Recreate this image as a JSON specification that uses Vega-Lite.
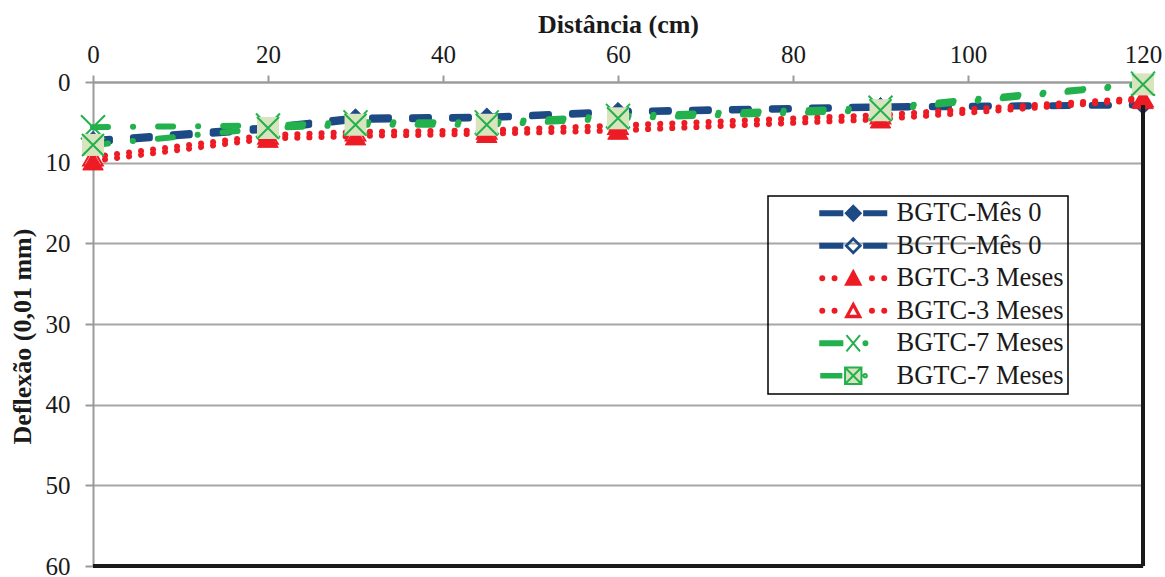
{
  "$schema": "https://vega.github.io/schema/vega-lite/v6.json",
  "width": 1050,
  "height": 484,
  "autosize": "none",
  "padding": {"left": 93, "top": 82, "right": 22, "bottom": 11},
  "background": "white",
  "config": {
    "view": {"stroke": null},
    "font": "Liberation Serif",
    "axis": {
      "labelFont": "Liberation Serif", "labelFontSize": 25, "labelColor": "#1a1a1a",
      "titleFont": "Liberation Serif", "titleFontSize": 26, "titleFontWeight": "bold", "titleColor": "#1a1a1a",
      "domainColor": "#9a9a9a", "domainWidth": 2, "tickColor": "#9a9a9a", "tickWidth": 2,
      "gridColor": "#a6a6a6", "gridWidth": 2
    },
    "legend": {"strokeWidth": 1.5}
  },
  "data": {
    "values": [
      {"series": "BGTC-Mês 0 #1", "x": 0, "y": 7.2}, {"series": "BGTC-Mês 0 #1", "x": 20, "y": 5.6}, {"series": "BGTC-Mês 0 #1", "x": 30, "y": 4.4}, {"series": "BGTC-Mês 0 #1", "x": 45, "y": 4.3}, {"series": "BGTC-Mês 0 #1", "x": 60, "y": 3.6}, {"series": "BGTC-Mês 0 #1", "x": 90, "y": 3.0}, {"series": "BGTC-Mês 0 #1", "x": 120, "y": 2.8},
      {"series": "BGTC-Mês 0 #2", "x": 0, "y": 7.5}, {"series": "BGTC-Mês 0 #2", "x": 20, "y": 5.9}, {"series": "BGTC-Mês 0 #2", "x": 30, "y": 4.7}, {"series": "BGTC-Mês 0 #2", "x": 45, "y": 4.5}, {"series": "BGTC-Mês 0 #2", "x": 60, "y": 3.8}, {"series": "BGTC-Mês 0 #2", "x": 90, "y": 3.2}, {"series": "BGTC-Mês 0 #2", "x": 120, "y": 2.9},
      {"series": "BGTC-3 Meses #1", "x": 0, "y": 9.8}, {"series": "BGTC-3 Meses #1", "x": 20, "y": 7.0}, {"series": "BGTC-3 Meses #1", "x": 30, "y": 6.7}, {"series": "BGTC-3 Meses #1", "x": 45, "y": 6.4}, {"series": "BGTC-3 Meses #1", "x": 60, "y": 6.0}, {"series": "BGTC-3 Meses #1", "x": 90, "y": 4.6}, {"series": "BGTC-3 Meses #1", "x": 120, "y": 2.2},
      {"series": "BGTC-3 Meses #2", "x": 0, "y": 9.3}, {"series": "BGTC-3 Meses #2", "x": 20, "y": 6.6}, {"series": "BGTC-3 Meses #2", "x": 30, "y": 6.2}, {"series": "BGTC-3 Meses #2", "x": 45, "y": 6.0}, {"series": "BGTC-3 Meses #2", "x": 60, "y": 5.4}, {"series": "BGTC-3 Meses #2", "x": 90, "y": 4.1}, {"series": "BGTC-3 Meses #2", "x": 120, "y": 2.0},
      {"series": "BGTC-7 Meses #1", "x": 0, "y": 5.6}, {"series": "BGTC-7 Meses #1", "x": 20, "y": 5.4}, {"series": "BGTC-7 Meses #1", "x": 30, "y": 5.0}, {"series": "BGTC-7 Meses #1", "x": 45, "y": 5.0}, {"series": "BGTC-7 Meses #1", "x": 60, "y": 4.2}, {"series": "BGTC-7 Meses #1", "x": 90, "y": 3.2}, {"series": "BGTC-7 Meses #1", "x": 120, "y": 0.2},
      {"series": "BGTC-7 Meses #2", "x": 0, "y": 7.8}, {"series": "BGTC-7 Meses #2", "x": 20, "y": 5.7}, {"series": "BGTC-7 Meses #2", "x": 30, "y": 5.3}, {"series": "BGTC-7 Meses #2", "x": 45, "y": 5.3}, {"series": "BGTC-7 Meses #2", "x": 60, "y": 4.5}, {"series": "BGTC-7 Meses #2", "x": 90, "y": 3.5}, {"series": "BGTC-7 Meses #2", "x": 120, "y": 0.3}
    ]
  },
  "encoding": {
    "x": {
      "field": "x", "type": "quantitative",
      "scale": {"domain": [0, 120], "nice": false, "zero": false},
      "axis": {"orient": "top", "title": "Distância (cm)", "values": [0, 20, 40, 60, 80, 100, 120], "grid": false, "tickSize": 7, "labelPadding": 8, "titlePadding": 5, "labelFlush": false}
    },
    "y": {
      "field": "y", "type": "quantitative",
      "scale": {"domain": [0, 60], "reverse": true, "nice": false, "zero": false},
      "axis": {"title": "Deflexão (0,01 mm)", "values": [0, 10, 20, 30, 40, 50, 60], "grid": true, "tickSize": 8, "labelPadding": 15, "titlePadding": 10, "titleY": 254}
    }
  },
  "layer": [
    {"transform": [{"filter": "datum.series == 'BGTC-Mês 0 #2'"}], "mark": {"type": "line", "stroke": "#1D4A85", "strokeWidth": 6, "strokeDash": [17, 23], "strokeCap": "round"}},
    {"transform": [{"filter": "datum.series == 'BGTC-Mês 0 #2'"}], "mark": {"type": "point", "shape": "diamond", "size": 260, "fill": "white", "stroke": "#1D4A85", "strokeWidth": 2, "opacity": 1}},
    {"transform": [{"filter": "datum.series == 'BGTC-Mês 0 #1'"}], "mark": {"type": "line", "stroke": "#1D4A85", "strokeWidth": 6, "strokeDash": [17, 23], "strokeCap": "round"}},
    {"transform": [{"filter": "datum.series == 'BGTC-Mês 0 #1'"}], "mark": {"type": "point", "shape": "diamond", "size": 300, "filled": true, "fill": "#1D4A85", "stroke": "#1D4A85", "strokeWidth": 1, "opacity": 1}},
    {"transform": [{"filter": "datum.series == 'BGTC-3 Meses #2'"}], "mark": {"type": "line", "stroke": "#ED1C24", "strokeWidth": 6, "strokeDash": [0.1, 12], "strokeCap": "round"}},
    {"transform": [{"filter": "datum.series == 'BGTC-3 Meses #2'"}], "mark": {"type": "point", "shape": "triangle-up", "size": 380, "fill": "white", "stroke": "#ED1C24", "strokeWidth": 2, "opacity": 1}},
    {"transform": [{"filter": "datum.series == 'BGTC-3 Meses #1'"}], "mark": {"type": "line", "stroke": "#ED1C24", "strokeWidth": 6, "strokeDash": [0.1, 12], "strokeCap": "round"}},
    {"transform": [{"filter": "datum.series == 'BGTC-3 Meses #1'"}], "mark": {"type": "point", "shape": "triangle-up", "size": 420, "filled": true, "fill": "#ED1C24", "stroke": "#ED1C24", "strokeWidth": 1, "opacity": 1}},
    {"transform": [{"filter": "datum.series == 'BGTC-7 Meses #1'"}], "mark": {"type": "line", "stroke": "#22B14C", "strokeWidth": 6, "strokeDash": [15, 25, 0.1, 25], "strokeCap": "round"}},
    {"transform": [{"filter": "datum.series == 'BGTC-7 Meses #1'"}], "mark": {"type": "point", "shape": "M-1,-1L1,1M-1,1L1,-1", "size": 576, "fill": "transparent", "stroke": "#22B14C", "strokeWidth": 2, "opacity": 1}},
    {"transform": [{"filter": "datum.series == 'BGTC-7 Meses #2'"}], "mark": {"type": "line", "stroke": "#22B14C", "strokeWidth": 6, "strokeDash": [15, 25, 0.1, 25], "strokeCap": "round"}},
    {"transform": [{"filter": "datum.series == 'BGTC-7 Meses #2'"}], "mark": {"type": "point", "shape": "square", "size": 484, "filled": true, "fill": "#D7E4BD", "strokeWidth": 0, "opacity": 1}},
    {"transform": [{"filter": "datum.series == 'BGTC-7 Meses #2'"}], "mark": {"type": "point", "shape": "M-1,-1L1,1M-1,1L1,-1", "size": 484, "fill": "transparent", "stroke": "#22B14C", "strokeWidth": 2, "opacity": 1}},
    {"mark": {"type": "rule", "color": "#1a1a1a", "strokeWidth": 2.5}, "encoding": {"x": {"datum": 0, "type": "quantitative"}, "x2": {"datum": 120}, "y": {"datum": 60, "type": "quantitative"}}},
    {"mark": {"type": "rule", "color": "#1a1a1a", "strokeWidth": 2.5}, "encoding": {"x": {"datum": 120, "type": "quantitative"}, "y": {"datum": 2.9, "type": "quantitative"}, "y2": {"datum": 60}}},
    {
      "transform": [{"filter": "false"}],
      "mark": {"type": "point", "opacity": 1, "strokeWidth": 2},
      "encoding": {
        "shape": {
          "field": "series", "type": "nominal",
          "scale": {
            "domain": ["BGTC-Mês 0 #1", "BGTC-Mês 0 #2", "BGTC-3 Meses #1", "BGTC-3 Meses #2", "BGTC-7 Meses #1", "BGTC-7 Meses #2"],
            "range": [
              "M-3.3,-0.2H-1.09V0.2H-3.3Z M1.09,-0.2H3.3V0.2H1.09Z M0,-0.75L0.75,0L0,0.75L-0.75,0Z",
              "M-3.3,-0.2H-1.09V0.2H-3.3Z M1.09,-0.2H3.3V0.2H1.09Z M0,-0.75L0.75,0L0,0.75L-0.75,0Z M0,-0.65L-0.65,0L0,0.65L0.65,0Z",
              "M-3.3,0A0.2,0.2,0,1,0,-2.9,0A0.2,0.2,0,1,0,-3.3,0Z M-2.07,0A0.2,0.2,0,1,0,-1.67,0A0.2,0.2,0,1,0,-2.07,0Z M1.67,0A0.2,0.2,0,1,0,2.07,0A0.2,0.2,0,1,0,1.67,0Z M2.9,0A0.2,0.2,0,1,0,3.3,0A0.2,0.2,0,1,0,2.9,0Z M0,-0.75L0.75,0.65L-0.75,0.65Z",
              "M-3.3,0A0.2,0.2,0,1,0,-2.9,0A0.2,0.2,0,1,0,-3.3,0Z M-2.07,0A0.2,0.2,0,1,0,-1.67,0A0.2,0.2,0,1,0,-2.07,0Z M1.67,0A0.2,0.2,0,1,0,2.07,0A0.2,0.2,0,1,0,1.67,0Z M2.9,0A0.2,0.2,0,1,0,3.3,0A0.2,0.2,0,1,0,2.9,0Z M0,-0.75L0.75,0.65L-0.75,0.65Z M0,-0.5L-0.54,0.5L0.54,0.5Z",
              "M-3.3,-0.2H-1.09V0.2H-3.3Z M-0.68,-0.82L0.68,0.82 M-0.68,0.82L0.68,-0.82 M1.02,0A0.2,0.2,0,1,0,1.42,0A0.2,0.2,0,1,0,1.02,0Z",
              "M-3.3,-0.17H-1.09 M-3.3,0H-1.09 M-3.3,0.17H-1.09 M-0.82,-0.82H0.82V0.82H-0.82Z M-0.82,-0.82L0.82,0.82 M-0.82,0.82L0.82,-0.82 M1.02,0A0.17,0.17,0,1,0,1.36,0A0.17,0.17,0,1,0,1.02,0Z"
            ]
          },
          "legend": {"title": null, "orient": "none", "legendX": 675, "legendY": 114, "strokeColor": "#000000", "padding": 4, "symbolSize": 400, "symbolOffset": 68, "symbolStrokeWidth": 2, "labelFont": "Liberation Serif", "labelFontSize": 26.5, "labelColor": "#1a1a1a", "labelOffset": 30, "rowPadding": 5.5, "labelLimit": 400, "labelExpr": "split(datum.label, ' #')[0] + '\u00a0\u00a0'"}
        },
        "fill": {
          "field": "series", "type": "nominal",
          "scale": {"domain": ["BGTC-Mês 0 #1", "BGTC-Mês 0 #2", "BGTC-3 Meses #1", "BGTC-3 Meses #2", "BGTC-7 Meses #1", "BGTC-7 Meses #2"], "range": ["#1D4A85", "#1D4A85", "#ED1C24", "#ED1C24", "#22B14C", "#D7E4BD"]},
          "legend": {"title": null, "orient": "none", "legendX": 675, "legendY": 114, "strokeColor": "#000000", "padding": 4, "symbolSize": 400, "symbolOffset": 68, "symbolStrokeWidth": 2, "labelFont": "Liberation Serif", "labelFontSize": 26.5, "labelColor": "#1a1a1a", "labelOffset": 30, "rowPadding": 5.5, "labelLimit": 400, "labelExpr": "split(datum.label, ' #')[0] + '\u00a0\u00a0'"}
        },
        "stroke": {
          "field": "series", "type": "nominal",
          "scale": {"domain": ["BGTC-Mês 0 #1", "BGTC-Mês 0 #2", "BGTC-3 Meses #1", "BGTC-3 Meses #2", "BGTC-7 Meses #1", "BGTC-7 Meses #2"], "range": ["#1D4A85", "#1D4A85", "#ED1C24", "#ED1C24", "#22B14C", "#22B14C"]},
          "legend": {"title": null, "orient": "none", "legendX": 675, "legendY": 114, "strokeColor": "#000000", "padding": 4, "symbolSize": 400, "symbolOffset": 68, "symbolStrokeWidth": 2, "labelFont": "Liberation Serif", "labelFontSize": 26.5, "labelColor": "#1a1a1a", "labelOffset": 30, "rowPadding": 5.5, "labelLimit": 400, "labelExpr": "split(datum.label, ' #')[0] + '\u00a0\u00a0'"}
        }
      }
    }
  ]
}
